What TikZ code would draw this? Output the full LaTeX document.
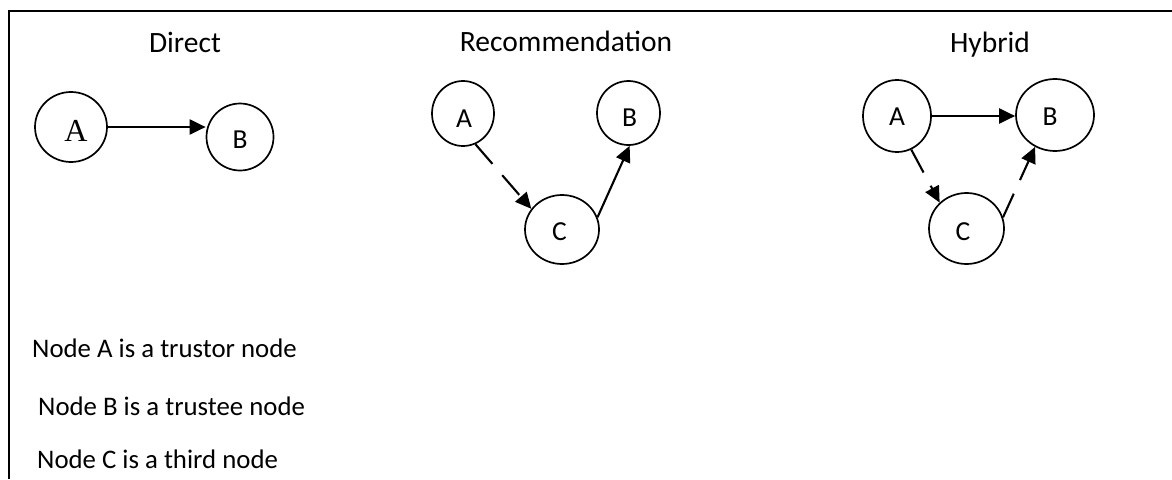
\documentclass[tikz,border=0pt]{standalone}
\usepackage{fontspec}
\setmainfont{Carlito}
\newfontfamily\serifA{Liberation Serif}
\usetikzlibrary{arrows.meta,shapes.geometric}

\tikzset{
  frame/.style={line width=1.7pt},
  circ/.style={draw, ellipse, line width=1.7pt, inner sep=0pt},
  lab/.style={font=\fontsize{27.5}{32}\selectfont, inner sep=0pt},
  title/.style={font=\fontsize{29.5}{34}\selectfont, inner sep=0pt, anchor=base},
  legend/.style={font=\fontsize{26.8}{32}\selectfont, inner sep=0pt, anchor=base west},
  link/.style={line width=2.1pt, -{Triangle[length=16pt,width=15pt]}},
  dlink/.style={link, dash pattern=on 26pt off 15pt},
}

\begin{document}
\begin{tikzpicture}[x=1pt, y=-1pt]
\useasboundingbox (0,0) rectangle (1172,479);

% open frame: top and left edges only
\coordinate (fbl) at (9,479);
\coordinate (ftl) at (9,11);
\coordinate (ftr) at (1172,11);
\draw[frame] (fbl) -- (ftl) -- (ftr);

% titles
\node[title] (tDirect) at (185,52) {Direct};
\node[title] (tRec) at (566,51) {Recommendation};
\node[title] (tHyb) at (990,52) {Hybrid};

% --- direct trust ---
\node[circ, minimum width=72pt, minimum height=70pt,
      label={[inner sep=0pt, font=\serifA\fontsize{32}{36}\selectfont, xshift=5pt, yshift=-4pt]center:A}]
      (dA) at (71,127) {};
\node[circ, minimum width=67pt, minimum height=67pt,
      label={[lab, yshift=-3pt]center:B}] (dB) at (240,137) {};
\draw[link] (dA.east) -- (dA.east -| dB.west);

% --- recommendation trust ---
\node[circ, minimum width=62pt, minimum height=65pt,
      label={[lab, xshift=1pt, yshift=-5pt]center:A}] (rA) at (463,113.5) {};
\node[circ, minimum width=63pt, minimum height=64pt,
      label={[lab, xshift=1pt, yshift=-5pt]center:B}] (rB) at (628.5,113) {};
\node[circ, minimum width=74pt, minimum height=69pt,
      label={[lab, xshift=-2.5pt, yshift=-2.5pt]center:C}] (rC) at (562,229.5) {};
\draw[dlink] (rA.-68) -- (rC.146);
\draw[link] (rC.19) -- (rB.-88);

% --- hybrid trust ---
\node[circ, minimum width=68pt, minimum height=72pt,
      label={[lab, yshift=-0.5pt]center:A}] (hA) at (897,116) {};
\node[circ, minimum width=78pt, minimum height=72pt,
      label={[lab, xshift=-5pt, yshift=-1.5pt]center:B}] (hB) at (1055,115) {};
\node[circ, minimum width=75pt, minimum height=71pt,
      label={[lab, xshift=-3.5pt, yshift=-3.5pt]center:C}] (hC) at (966.5,228.5) {};
\draw[link] (hA.east) -- (hA.east -| hB.west);
\draw[dlink] (hA.-67) -- (hC.136);
\draw[dlink] (hC.17) -- (hB.-122);

% legend
\node[legend] (lA) at (32,357) {Node A is a trustor node};
\node[legend] (lB) at (38,415) {Node B is a trustee node};
\node[legend] (lC) at (37,468) {Node C is a third node};
\end{tikzpicture}
\end{document}
